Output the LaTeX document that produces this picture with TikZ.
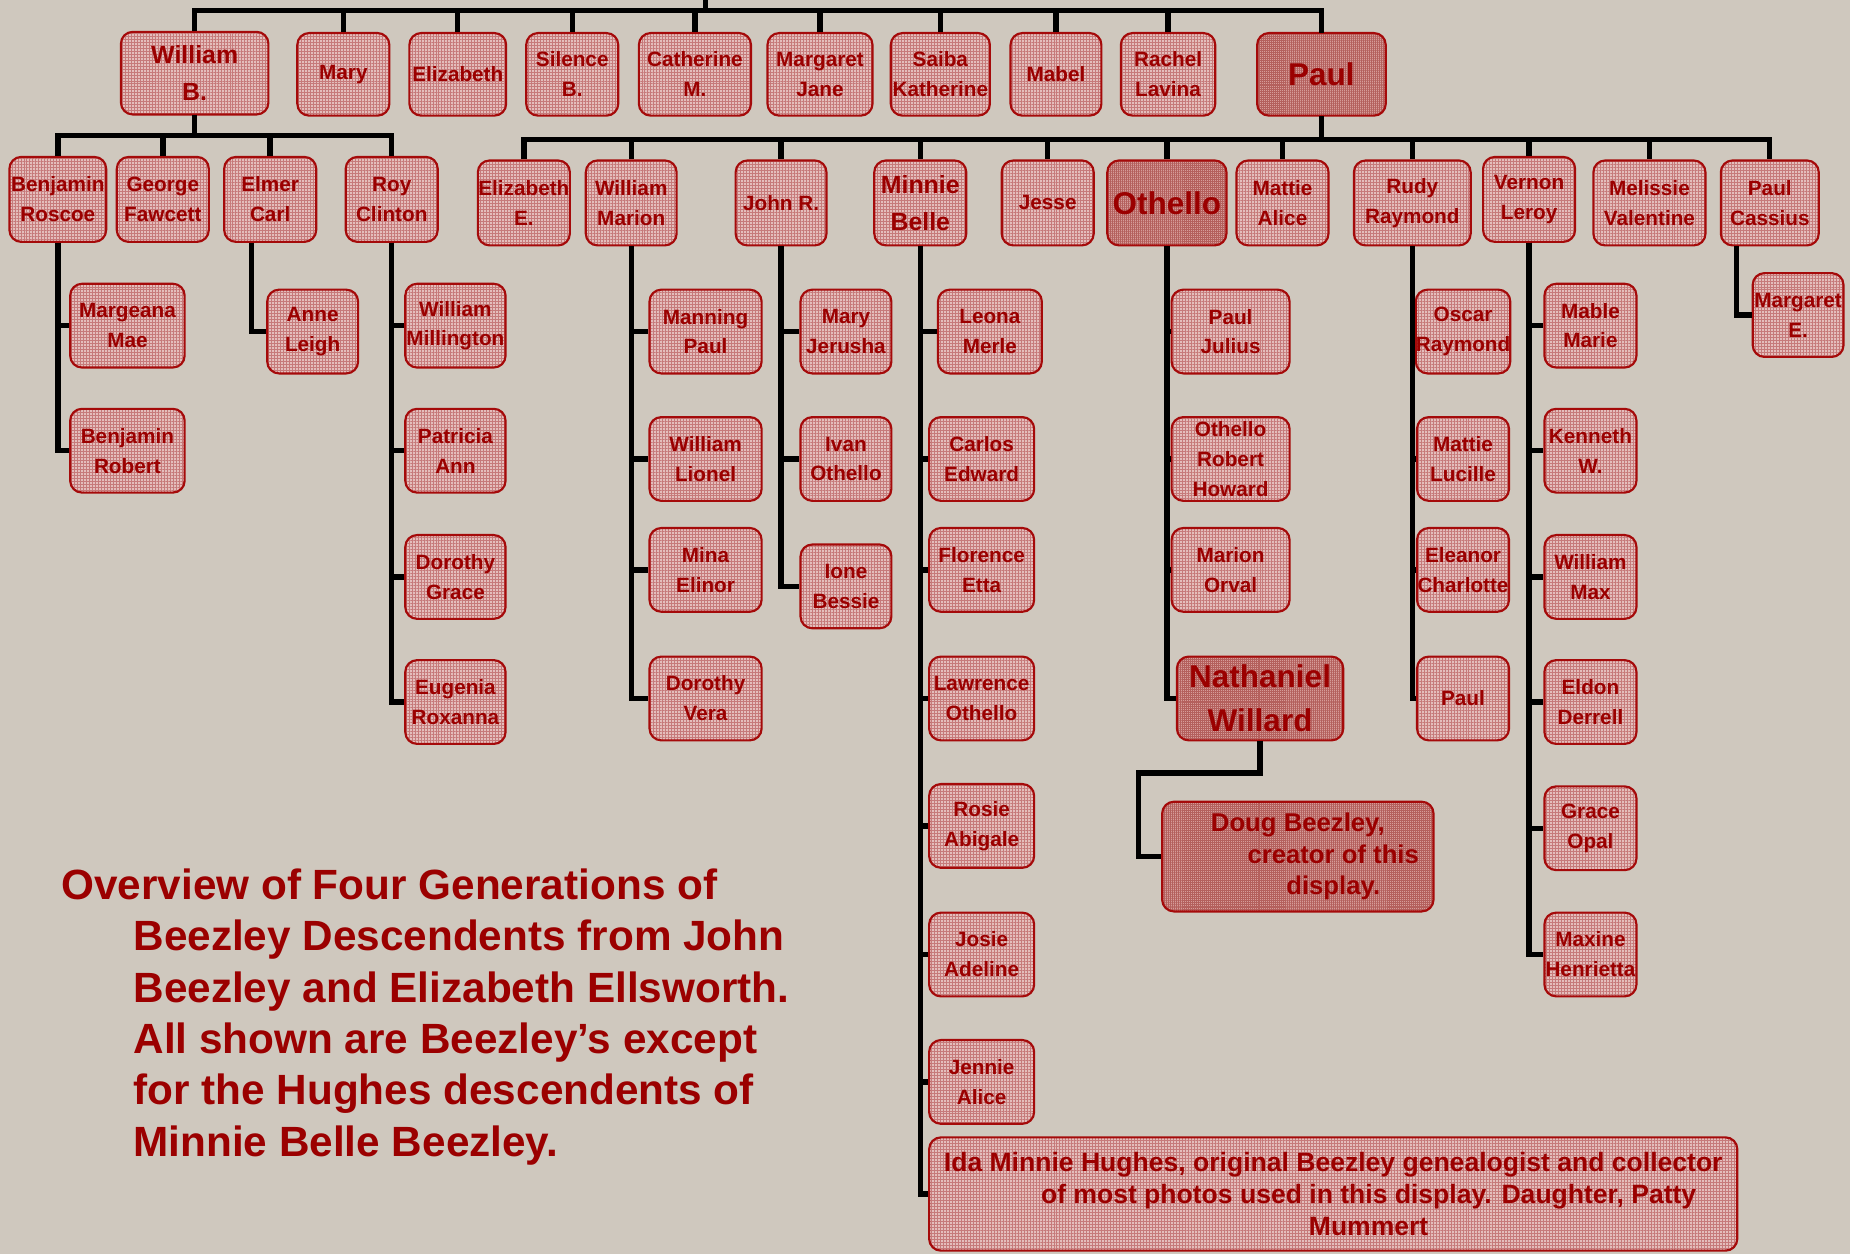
\documentclass[tikz,border=0pt]{standalone}
\usepackage{fontspec}
\setmainfont{Liberation Sans}
\usepackage{tikz}
\usetikzlibrary{patterns.meta}
\definecolor{bgstone}{RGB}{207,200,190}
\definecolor{namered}{RGB}{155,0,0}
\definecolor{boxedge}{RGB}{165,10,10}
\definecolor{boxlight}{RGB}{228,190,188}
\definecolor{boxgrid}{RGB}{198,122,122}
\definecolor{roselight}{RGB}{214,156,153}
\definecolor{rosegrid}{RGB}{180,96,93}
\colorlet{linkcol}{black}
\newcommand{\namesmall}{\bfseries\fontsize{25}{36}\selectfont}
\newcommand{\namemid}{\bfseries\fontsize{30}{45}\selectfont}
\newcommand{\namebig}{\bfseries\fontsize{38}{53}\selectfont}
\newcommand{\notetext}{\bfseries\fontsize{31}{38}\selectfont}
\newcommand{\idatext}{\bfseries\fontsize{32}{38}\selectfont}
\newcommand{\titletext}{\bfseries\fontsize{51}{62}\selectfont}

\begin{document}
\begin{tikzpicture}[x=0.05cm,y=-0.05cm,
  person/.style={draw=boxedge, line width=2.6pt, rounded corners=0.5cm, preaction={fill=boxlight}, pattern={Hatch[angle=0,distance=3.6pt,line width=0.9pt]}, pattern color=boxgrid, text=namered, font=\namesmall, align=center, inner sep=0pt, minimum height=3.55cm},
  keyperson/.style={person, preaction={fill=roselight}, pattern={Hatch[angle=0,distance=2.4pt,line width=0.9pt]}, pattern color=rosegrid},
  link/.style={draw=linkcol, line width=6.5pt}]
\useasboundingbox (0,0) rectangle (1568,1063);
\fill[bgstone] (0,0) rectangle (1568,1063);

% first generation
\node[person, font=\namemid, minimum width=6.25cm, minimum height=3.5cm] (wb) at (165,62) {William\\B.};
\node[person, minimum width=3.9cm, minimum height=3.5cm] (mary) at (291,63) {Mary};
\node[person, minimum width=4.1cm, minimum height=3.5cm] (eliz) at (388,63) {Elizabeth};
\node[person, minimum width=3.9cm, minimum height=3.5cm] (sil) at (485,63) {Silence\\B.};
\node[person, minimum width=4.75cm, minimum height=3.5cm] (cath) at (589,63) {Catherine\\M.};
\node[person, minimum width=4.45cm, minimum height=3.5cm] (marg) at (695,63) {Margaret\\Jane};
\node[person, minimum width=4.2cm, minimum height=3.5cm] (saiba) at (797,63) {Saiba\\Katherine};
\node[person, minimum width=3.85cm, minimum height=3.5cm] (mabel) at (895,63) {Mabel};
\node[person, minimum width=4cm, minimum height=3.5cm] (rach) at (990,63) {Rachel\\Lavina};
\node[keyperson, font=\namebig, minimum width=5.45cm, minimum height=3.5cm] (paul) at (1120,63) {Paul};

% William B.'s line
\node[person, minimum width=4.1cm, minimum height=3.6cm] (benro) at (49,169) {Benjamin\\Roscoe};
\node[person, minimum width=3.9cm, minimum height=3.6cm] (geo) at (138,169) {George\\Fawcett};
\node[person, minimum width=3.9cm, minimum height=3.6cm] (elm) at (229,169) {Elmer\\Carl};
\node[person, minimum width=3.9cm, minimum height=3.6cm] (roy) at (332,169) {Roy\\Clinton};
\node[person, minimum width=4.85cm] (marma) at (108,276) {Margeana\\Mae};
\node[person, minimum width=4.85cm] (benrob) at (108,382) {Benjamin\\Robert};
\node[person, minimum width=3.85cm] (anne) at (265,281) {Anne\\Leigh};
\node[person, minimum width=4.25cm] (wmill) at (386,276) {William\\Millington};
\node[person, minimum width=4.25cm] (pat) at (386,382) {Patricia\\Ann};
\node[person, minimum width=4.25cm] (dot) at (386,489) {Dorothy\\Grace};
\node[person, minimum width=4.25cm] (eug) at (386,595) {Eugenia\\Roxanna};

% Paul's line
\node[person, minimum width=3.9cm, minimum height=3.6cm] (elize) at (444,172) {Elizabeth\\E.};
\node[person, minimum width=3.85cm, minimum height=3.6cm] (wmar) at (535,172) {William\\Marion};
\node[person, minimum width=3.85cm, minimum height=3.6cm] (john) at (662,172) {John R.};
\node[person, font=\namemid, minimum width=3.9cm, minimum height=3.6cm] (minnie) at (780,172) {Minnie\\Belle};
\node[person, minimum width=3.9cm, minimum height=3.6cm] (jesse) at (888,172) {Jesse};
\node[keyperson, font=\namebig, minimum width=5.05cm, minimum height=3.6cm] (oth) at (989,172) {Othello};
\node[person, minimum width=3.9cm, minimum height=3.6cm] (mattie) at (1087,172) {Mattie\\Alice};
\node[person, minimum width=4.95cm, minimum height=3.6cm] (rudy) at (1197,172) {Rudy\\Raymond};
\node[person, minimum width=3.9cm, minimum height=3.6cm] (vern) at (1296,169) {Vernon\\Leroy};
\node[person, minimum width=4.75cm, minimum height=3.6cm] (mel) at (1398,172) {Melissie\\Valentine};
\node[person, minimum width=4.15cm, minimum height=3.6cm] (pcass) at (1500,172) {Paul\\Cassius};

\node[person, minimum width=4.75cm] (man) at (598,281) {Manning\\Paul};
\node[person, minimum width=4.75cm] (wlio) at (598,389) {William\\Lionel};
\node[person, minimum width=4.75cm] (mina) at (598,483) {Mina\\Elinor};
\node[person, minimum width=4.75cm] (dver) at (598,592) {Dorothy\\Vera};

\node[person, minimum width=3.85cm] (mjer) at (717,281) {Mary\\Jerusha};
\node[person, minimum width=3.85cm] (ivan) at (717,389) {Ivan\\Othello};
\node[person, minimum width=3.85cm] (ione) at (717,497) {Ione\\Bessie};

\node[person, minimum width=4.4cm] (leona) at (839,281) {Leona\\Merle};
\node[person, minimum width=4.45cm] (carlos) at (832,389) {Carlos\\Edward};
\node[person, minimum width=4.45cm] (flor) at (832,483) {Florence\\Etta};
\node[person, minimum width=4.45cm] (law) at (832,592) {Lawrence\\Othello};
\node[person, minimum width=4.45cm] (rosie) at (832,700) {Rosie\\Abigale};
\node[person, minimum width=4.45cm] (josie) at (832,809) {Josie\\Adeline};
\node[person, minimum width=4.45cm] (jennie) at (832,917) {Jennie\\Alice};
\node[person, font=\idatext, minimum width=34.25cm, minimum height=4.8cm] (ida) at (1130,1012) {Ida Minnie Hughes, original Beezley genealogist and collector\\\hspace*{3cm}of most photos used in this display. Daughter, Patty\\\hspace*{3cm}Mummert};

\node[person, minimum width=5cm] (pjul) at (1043,281) {Paul\\Julius};
\node[person, minimum width=5cm] (orh) at (1043,389) {Othello\\Robert\\Howard};
\node[person, minimum width=5cm] (morv) at (1043,483) {Marion\\Orval};
\node[keyperson, font=\namebig, minimum width=7.05cm] (nath) at (1068,592) {Nathaniel\\Willard};
\node[keyperson, font=\notetext, minimum width=11.5cm, minimum height=4.65cm] (doug) at (1100,726) {Doug Beezley,\\\hspace*{3cm}creator of this\\\hspace*{3cm}display.};

\node[person, minimum width=3.9cm] (oscar) at (1240,281) {Oscar\\Raymond};
\node[person, minimum width=3.9cm] (mluc) at (1240,389) {Mattie\\Lucille};
\node[person, minimum width=3.9cm] (elea) at (1240,483) {Eleanor\\Charlotte};
\node[person, minimum width=3.9cm] (paulr) at (1240,592) {Paul};

\node[person, minimum width=3.9cm] (mable) at (1348,276) {Mable\\Marie};
\node[person, minimum width=3.9cm] (kenn) at (1348,382) {Kenneth\\W.};
\node[person, minimum width=3.9cm] (wmax) at (1348,489) {William\\Max};
\node[person, minimum width=3.9cm] (eldon) at (1348,595) {Eldon\\Derrell};
\node[person, minimum width=3.9cm] (grace) at (1348,702) {Grace\\Opal};
\node[person, minimum width=3.9cm] (maxine) at (1348,809) {Maxine\\Henrietta};

\node[person, minimum width=3.85cm] (marge) at (1524,267) {Margaret\\E.};

% connectors
\coordinate (root) at (598,0);
\coordinate (g1bus) at (598,9);
\coordinate (wbbus) at (165,115);
\coordinate (pbus) at (1120,118);
\draw[link] (root) -- (598,11);
\draw[link] (wb.north) |- (g1bus) -| (paul.north);
\foreach \k in {mary,eliz,sil,cath,marg,saiba,mabel,rach}
  \draw[link] (\k.north |- g1bus) -- (\k.north);

\draw[link] (wb.south) -- (wbbus);
\draw[link] (benro.north) |- (wbbus) -| (roy.north);
\foreach \k in {geo,elm}
  \draw[link] (\k.north |- wbbus) -- (\k.north);
\foreach \k in {marma,benrob}
  \draw[link] (benro.south) |- (\k.west);
\draw[link] ([xshift=-0.8cm]elm.south) |- (anne.west);
\foreach \k in {wmill,pat,dot,eug}
  \draw[link] (roy.south) |- (\k.west);

\draw[link] (paul.south) -- (pbus);
\draw[link] (elize.north) |- (pbus) -| (pcass.north);
\foreach \k in {wmar,john,minnie,jesse,oth,mattie,rudy,vern,mel}
  \draw[link] (\k.north |- pbus) -- (\k.north);
\foreach \k in {man,wlio,mina,dver}
  \draw[link] (wmar.south) |- (\k.west);
\foreach \k in {mjer,ivan,ione}
  \draw[link] (john.south) |- (\k.west);
\foreach \k in {leona,carlos,flor,law,rosie,josie,jennie,ida}
  \draw[link] (minnie.south) |- (\k.west);
\foreach \k in {pjul,orh,morv,nath}
  \draw[link] (oth.south) |- (\k.west);
\draw[link] (nath.south) |- (965,655) |- (doug.west);
\foreach \k in {oscar,mluc,elea,paulr}
  \draw[link] (rudy.south) |- (\k.west);
\foreach \k in {mable,kenn,wmax,eldon,grace,maxine}
  \draw[link] (vern.south) |- (\k.west);
\draw[link] ([xshift=-1.4cm]pcass.south) |- (marge.west);

% caption
\node[anchor=north west, inner sep=0pt, align=left, text=namered, font=\titletext] (caption) at (52,736)
  {Overview of Four Generations of\\
   \hspace*{3.05cm}Beezley Descendents from John\\
   \hspace*{3.05cm}Beezley and Elizabeth Ellsworth.\\
   \hspace*{3.05cm}All shown are Beezley’s except\\
   \hspace*{3.05cm}for the Hughes descendents of\\
   \hspace*{3.05cm}Minnie Belle Beezley.};
\end{tikzpicture}
\end{document}
